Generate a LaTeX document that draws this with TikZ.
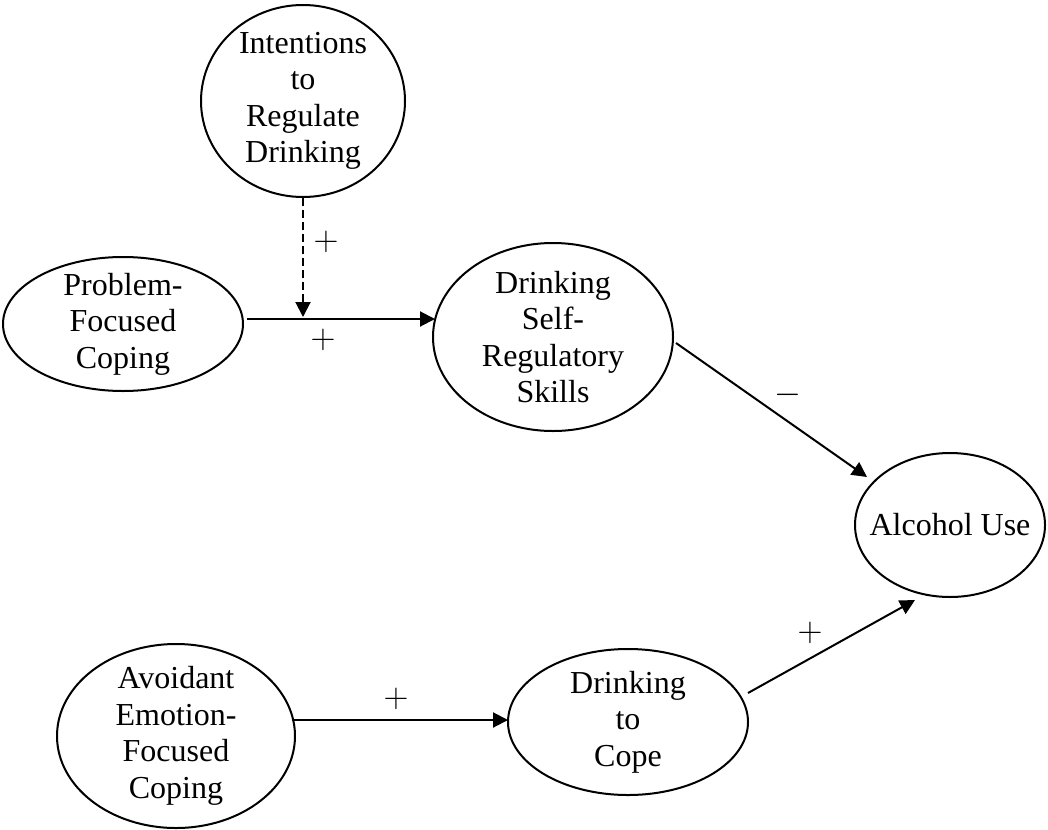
\documentclass[tikz,border=0pt]{standalone}
\usepackage{fontspec}
\setmainfont{Liberation Serif}
\usetikzlibrary{shapes.geometric,arrows.meta,calc}
\begin{document}
\begin{tikzpicture}[x=0.5pt,y=-0.5pt,
  latent/.style={draw,ellipse,line width=1pt,inner sep=-8pt,align=center,
    font=\fontsize{16pt}{18.25pt}\selectfont},
  arr/.style={-{Triangle[length=7.5pt,width=7.5pt]},line width=1pt},
  dasharr/.style={arr,dash pattern=on 4pt off 2pt},
  sign/.style={inner sep=0pt,font=\fontsize{18pt}{20pt}\selectfont}]
\useasboundingbox (0,0) rectangle (1048,829);
\node[latent,minimum width=102pt,minimum height=96pt] (intent) at (303,101)
  {Intentions\\to\\Regulate\\Drinking};
\node[latent,minimum width=120pt,minimum height=67pt] (prob) at (123,324)
  {Problem-\\Focused\\Coping};
\node[latent,minimum width=120pt,minimum height=94pt] (srs) at (553,337)
  {Drinking\\Self-\\Regulatory\\Skills};
\node[latent,minimum width=95pt,minimum height=72pt] (alc) at (950,525)
  {Alcohol Use};
\node[latent,minimum width=119pt,minimum height=92pt] (avoid) at (176,736)
  {Avoidant\\Emotion-\\Focused\\Coping};
\node[latent,minimum width=120pt,minimum height=73pt] (cope) at (628,722)
  {Drinking\\to\\Cope};
\coordinate (junc) at (303,317);
\draw[arr] ($(prob.center)+(124,-5)$) -- ($(srs.center)+(-118,-18)$);
\draw[dasharr] (intent.south) -- (junc);
\draw[arr] ($(srs.center)+(123,6)$) -- ($(alc.center)+(-83,-48)$);
\draw[arr] ($(avoid.center)+(116,-16)$) -- ($(cope.center)+(-120,-2)$);
\draw[arr] ($(cope.center)+(120,-29)$) -- ($(alc.center)+(-35,75)$);
\node[sign] (s1) at (326,242) {$+$};
\node[sign] (s2) at (323,340) {$+$};
\node[sign] (s3) at (788,395) {$-$};
\node[sign] (s4) at (396,699) {$+$};
\node[sign] (s5) at (810,633) {$+$};
\end{tikzpicture}
\end{document}
